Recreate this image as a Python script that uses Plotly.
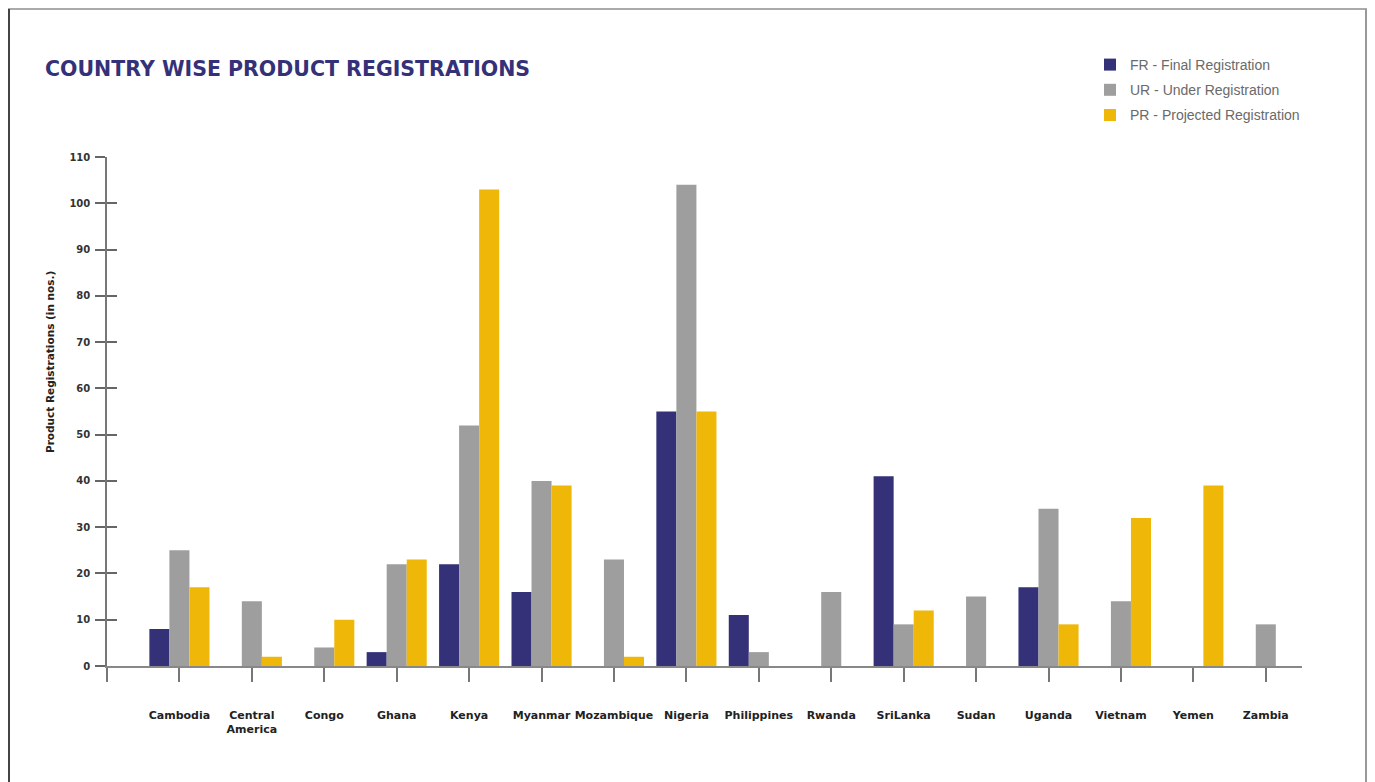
import plotly.graph_objects as go

# Country-wise product registration counts
countries = ["Cambodia", "Central<br>America", "Congo", "Ghana", "Kenya", "Myanmar",
             "Mozambique", "Nigeria", "Philippines", "Rwanda", "SriLanka", "Sudan",
             "Uganda", "Vietnam", "Yemen", "Zambia"]
fr = [8, 0, 0, 3, 22, 16, 0, 55, 11, 0, 41, 0, 17, 0, 0, 0]
ur = [25, 14, 4, 22, 52, 40, 23, 104, 3, 16, 9, 15, 34, 14, 0, 9]
pr = [17, 2, 10, 23, 103, 39, 2, 55, 0, 0, 12, 0, 9, 32, 39, 0]
y_ticks = list(range(0, 111, 10))

series = [
    ("FR - Final Registration", fr, "#353178"),
    ("UR - Under Registration", ur, "#9d9e9d"),
    ("PR - Projected Registration", pr, "#efb808"),
]

# page body adds an 8px margin, so the figure is a bit smaller than the window
OFF = 8
W, H = 1375 - OFF, 782 - OFF
# plot area in window pixels
L, R, T, B = 107, 1302, 157, 666


def px_x(p):
    return (p - L) / (R - L)


def px_y(p):
    return (B - p) / (B - T)


pos = list(range(len(countries)))
fig = go.Figure()
for name, vals, col in series:
    fig.add_trace(go.Bar(x=pos, y=vals, name=name, marker_color=col,
                         marker_line_width=0, legendgroup=name))

# invisible trace so the second y axis (inside ticks) is drawn
fig.add_trace(go.Scatter(x=[0], y=[0], yaxis="y2", mode="markers",
                         marker_opacity=0, showlegend=False, hoverinfo="skip"))

fig.update_layout(
    width=W, height=H,
    margin=dict(l=L - OFF, r=W - (R - OFF), t=T - OFF, b=H - (B - OFF)),
    paper_bgcolor="white", plot_bgcolor="white",
    font=dict(family="DejaVu Sans", color="#222"),
    barmode="group", bargap=0.17, bargroupgap=0,
    title=dict(text="<b>COUNTRY WISE PRODUCT REGISTRATIONS</b>",
               xref="container", yref="container",
               x=(45 - OFF) / W, xanchor="left", y=1 - (69 - OFF) / H,
               yanchor="middle",
               font=dict(family="DejaVu Sans", size=20.5, color="#353178")),
    legend=dict(x=px_x(1090), y=px_y(49), xanchor="left", yanchor="top",
                font=dict(family="Liberation Sans", size=14, color="#6a6a6a"),
                tracegroupgap=4, itemwidth=30, bgcolor="rgba(0,0,0,0)"),
    xaxis=dict(range=[-1, 15.5], tickmode="array",
               tickvals=[-1] + pos, ticktext=[""] + countries,
               showline=True, linecolor="#888", linewidth=1.5,
               ticks="outside", ticklen=14, tickcolor="#777", tickwidth=1.5,
               ticklabelstandoff=24, showgrid=False, zeroline=False,
               tickfont=dict(size=11, color="#222", weight="bold")),
    yaxis=dict(range=[0, 110], tickvals=y_ticks, showline=True,
               linecolor="#777", linewidth=1.5, ticks="outside", ticklen=10,
               tickcolor="#666", tickwidth=1.5, showgrid=False, zeroline=False,
               ticklabelstandoff=3,
               tickfont=dict(size=10, color="#333", weight="bold")),
    yaxis2=dict(range=[0, 110], tickvals=y_ticks, overlaying="y", side="left",
                anchor="x", ticks="inside", ticklen=10, tickcolor="#666",
                tickwidth=1.5, showticklabels=False, showgrid=False,
                zeroline=False, showline=False),
    annotations=[dict(text="Product Registrations (in nos.)", textangle=-90,
                      xref="paper", yref="paper", x=px_x(50), y=px_y(362),
                      xanchor="center", yanchor="middle", showarrow=False,
                      font=dict(size=10.5, color="#222", weight="bold"))],
    shapes=[
        dict(type="line", xref="paper", yref="paper", x0=px_x(OFF), x1=px_x(1367),
             y0=px_y(OFF + 1), y1=px_y(OFF + 1), line=dict(color="#aaa", width=2)),
        dict(type="line", xref="paper", yref="paper", x0=px_x(OFF + 1), x1=px_x(OFF + 1),
             y0=px_y(OFF + 1), y1=px_y(790), line=dict(color="#444", width=2)),
        dict(type="line", xref="paper", yref="paper", x0=px_x(1366), x1=px_x(1366),
             y0=px_y(OFF + 1), y1=px_y(790), line=dict(color="#999", width=2)),
    ],
)

fig.write_html("out.html")
